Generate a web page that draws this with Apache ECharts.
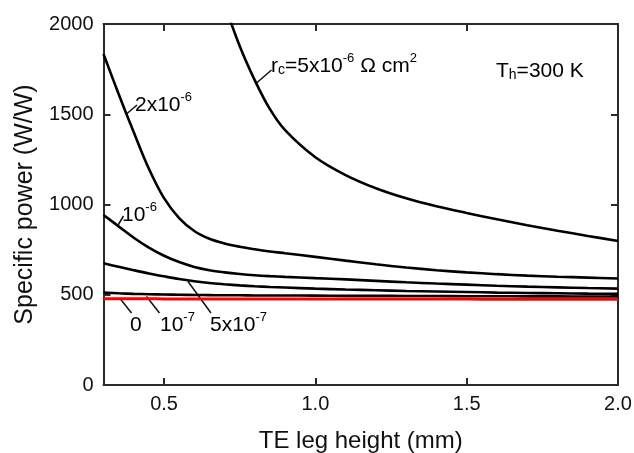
<!DOCTYPE html>
<html>
<head>
<meta charset="utf-8">
<title>Specific power vs TE leg height</title>
<script src="https://cdn.jsdelivr.net/npm/echarts@6/dist/echarts.min.js"></script>
<style>
  html, body { margin: 0; padding: 0; background: #fff; }
  #chart { width: 634px; height: 453px; }
</style>
</head>
<body>
<div id="chart"></div>
<script>
// TE leg heights (mm) at which the curves are sampled
const legHeights = [0.3, 0.35, 0.4, 0.45, 0.5, 0.55, 0.6, 0.65, 0.7, 0.75, 0.8, 0.85,
                    0.9, 1.0, 1.1, 1.2, 1.3, 1.4, 1.5, 1.6, 1.7, 1.8, 1.9, 2.0];

// Specific power (W/W) for each contact resistivity rc (Ω cm²)
const rc5e6 = [null, null, null, null, null, null, null, null, 2110, 1878, 1688, 1528,
               1412, 1262, 1163, 1090, 1034, 990, 953, 918, 885, 855, 826, 798];
const rc2e6 = [1834, 1612, 1400, 1198, 1035, 925, 853, 810, 784, 766, 752, 740,
               730, 710, 689, 669, 651, 636, 624, 614, 606, 600, 595, 590];
const rc1e6 = [942, 879, 816, 761, 716, 681, 654, 636, 624, 615, 608, 603,
               599, 592, 585, 577, 569, 562, 556, 550, 545, 541, 537, 534];
const rc5e7 = [674, 655, 636, 618, 602, 587, 575, 565, 558, 552, 547, 543,
               540, 534, 529, 525, 521, 518, 515, 512, 510, 508, 506, 505];
const rc1e7 = [512, 508, 505, 503, 501, 500, 499, 498, 497, 497, 496, 496,
               496, 495, 494, 494, 493, 493, 492, 492, 491, 491, 490, 490];
const rc0   = [478, 478, 478, 478, 477, 477, 477, 477, 477, 477, 477, 477,
               477, 476, 476, 476, 476, 476, 476, 475, 475, 475, 475, 475];

// Axis tick values
const xTicks = [0.5, 1.0, 1.5, 2.0];
const yTicks = [0, 500, 1000, 1500, 2000];

const FONT = '"Liberation Sans", Arial, Helvetica, sans-serif';
const INK = '#111';
const FRAME = '#2a2a2a';

function pairs(values) {
  const out = [];
  values.forEach((v, i) => { if (v !== null) out.push([legHeights[i], v]); });
  return out;
}

function curve(name, values, color, width) {
  return {
    name: name,
    type: 'line',
    data: pairs(values),
    smooth: 0.35,
    showSymbol: false,
    clip: true,
    silent: true,
    lineStyle: { color: color, width: width },
    xAxisIndex: 0,
    yAxisIndex: 0
  };
}

const frameLine = { show: true, onZero: false, lineStyle: { color: FRAME, width: 2 } };

function xAxisDef(position, labelled) {
  return {
    type: 'value',
    position: position,
    min: 0.3,
    max: 2.0,
    axisLine: frameLine,
    axisTick: {
      show: true, inside: true, length: 7,
      customValues: xTicks,
      lineStyle: { color: FRAME, width: 2 }
    },
    axisLabel: {
      show: labelled,
      customValues: xTicks,
      formatter: v => v.toFixed(1),
      fontFamily: FONT, fontSize: 20, color: INK, margin: 9
    },
    splitLine: { show: false },
    name: labelled ? 'TE leg height (mm)' : '',
    nameLocation: 'middle',
    nameGap: 44,
    nameTextStyle: { fontFamily: FONT, fontSize: 24, color: INK }
  };
}

function yAxisDef(position, labelled) {
  return {
    type: 'value',
    position: position,
    min: 0,
    max: 2000,
    interval: 500,
    axisLine: frameLine,
    axisTick: {
      show: true, inside: true, length: 7,
      customValues: yTicks,
      lineStyle: { color: FRAME, width: 2 }
    },
    axisLabel: {
      show: labelled,
      customValues: yTicks,
      formatter: v => String(v),
      fontFamily: FONT, fontSize: 20, color: INK, margin: 10
    },
    splitLine: { show: false },
    name: labelled ? 'Specific power (W/W)' : '',
    nameLocation: 'middle',
    nameRotate: 90,
    nameGap: 61,
    nameTextStyle: { fontFamily: FONT, fontSize: 25, color: INK }
  };
}

// rich text styles: n = normal, s = superscript, b = small letter on the baseline
const rich = {
  n: { fontFamily: FONT, fontSize: 21, lineHeight: 25, color: INK, verticalAlign: 'bottom' },
  s: { fontFamily: FONT, fontSize: 13, lineHeight: 13, color: INK, verticalAlign: 'top' },
  b: { fontFamily: FONT, fontSize: 14, lineHeight: 18, color: INK, verticalAlign: 'bottom' }
};

function label(x, baseline, text) {
  return {
    type: 'text',
    x: x,
    y: baseline - 20,
    silent: true,
    style: { text: text, rich: rich, align: 'left', verticalAlign: 'top' }
  };
}

function leader(x1, y1, x2, y2) {
  return {
    type: 'line',
    silent: true,
    shape: { x1: x1, y1: y1, x2: x2, y2: y2 },
    style: { stroke: INK, lineWidth: 1.5 }
  };
}

const chart = echarts.init(document.getElementById('chart'), null, { renderer: 'canvas' });

chart.setOption({
  animation: false,
  backgroundColor: '#fff',
  grid: {
    left: 103.5, right: 16, top: 24, bottom: 68,
    containLabel: false,
    outerBoundsMode: 'none'
  },
  xAxis: [xAxisDef('bottom', true), xAxisDef('top', false)],
  yAxis: [yAxisDef('left', true), yAxisDef('right', false)],
  series: [
    curve('5x10^-6', rc5e6, '#000', 2.6),
    curve('2x10^-6', rc2e6, '#000', 2.6),
    curve('10^-6', rc1e6, '#000', 2.6),
    curve('5x10^-7', rc5e7, '#000', 2.6),
    curve('10^-7', rc1e7, '#000', 2.6),
    curve('0', rc0, '#ff0000', 3)
  ],
  graphic: [
    label(271, 72, '{n|r}{b|c}{n|=5x10}{s|-6}{n| Ω cm}{s|2}'),
    leader(256.5, 83, 271.5, 70),
    label(496, 77, '{n|T}{b|h}{n|=300 K}'),
    label(135, 111, '{n|2x10}{s|-6}'),
    leader(126.5, 114, 137, 105),
    label(122, 221, '{n|10}{s|-6}'),
    leader(117.5, 226, 123.5, 216),
    label(130, 331, '{n|0}'),
    leader(120, 298.5, 131.5, 313),
    label(160, 331, '{n|10}{s|-7}'),
    leader(146.5, 296.5, 159.5, 313),
    label(210, 331, '{n|5x10}{s|-7}'),
    leader(188, 281.5, 211, 313)
  ]
});
</script>
</body>
</html>
